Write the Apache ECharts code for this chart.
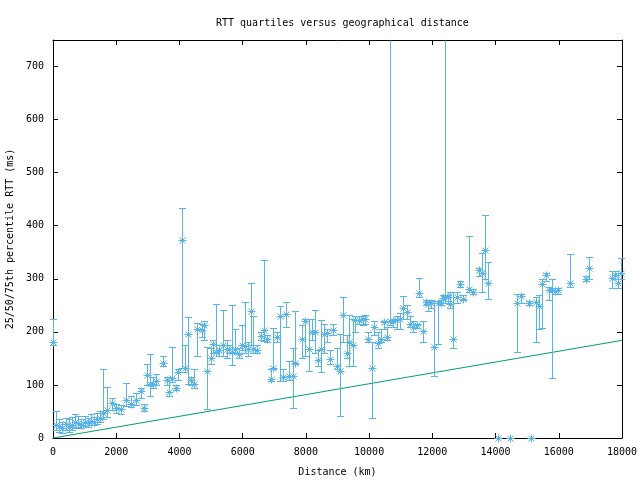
<!DOCTYPE html>
<html>
<head>
<meta charset="utf-8">
<script src="https://cdn.jsdelivr.net/npm/echarts@6/dist/echarts.min.js"></script>
<style>
html,body{margin:0;padding:0;background:#fff;}
#chart{width:640px;height:480px;}
</style>
</head>
<body>
<div id="chart"></div>
<script>
// Distance (km)
const distance = [0,100,200,300,400,500,600,700,800,900,1000,1100,1200,1300,1400,1500,
1592,1698,1856,2004,2162,2309,2457,2625,2793,2878,2973,3068,3152,3258,3489,3595,3680,3774,3880,3964,
4091,4175,4281,4365,4470,4565,4702,4786,4881,4987,5071,5156,5250,5387,5493,5566,5672,5757,5883,5988,
6073,6158,6263,6337,6442,6578,6673,6779,6885,6969,7075,7180,7264,7370,7475,7580,7664,7875,7981,8087,
8192,8277,8382,8487,8582,8677,8772,8846,8973,9078,9183,9289,9373,9479,9563,9669,9795,9879,9974,10080,
10163,10269,10374,10469,10564,10669,10764,10870,10975,11080,11186,11291,11397,11502,11586,11692,11787,11871,11956,12061,
12167,12262,12345,12399,12483,12567,12662,12768,12873,12978,13158,13274,13474,13579,13664,13769,14070,14450,14687,14792,
15066,15120,15278,15383,15478,15584,15700,15773,15879,15984,16363,16869,16964,17672,17777,17882,17957];
// Median RTT (ms)
const median = [181,25,22,18,27,20,24,30,28,25,30,28,32,30,35,38,
47,53,66,56,54,71,65,72,88,57,118,102,102,107,141,110,86,113,95,125,
374,132,196,110,102,205,203,212,127,151,177,163,165,175,168,167,163,168,159,176,
173,167,240,168,166,193,203,187,112,132,191,229,115,233,116,116,142,187,220,168,
199,199,147,168,196,197,149,204,135,127,231,160,180,176,223,223,224,224,187,132,
209,179,187,218,190,221,220,223,224,245,237,215,209,212,273,201,257,252,254,171,
254,255,264,268,266,253,187,265,291,262,281,275,317,311,355,293,0,0,254,267,
254,0,257,249,291,307,278,279,277,278,293,300,320,301,308,292,311];
// 25th percentile RTT (ms)
const q25 = [176,15,12,10,16,12,15,18,20,18,22,20,24,25,26,30,
35,40,53,48,45,60,58,62,75,50,100,80,95,100,135,100,80,105,90,110,
132,125,102,100,95,154,190,185,55,140,160,160,155,155,150,160,138,160,150,165,
160,155,175,160,160,185,182,180,108,130,180,107,108,210,110,57,140,150,155,127,
185,160,135,125,160,180,140,195,130,42,180,150,136,135,200,215,212,215,180,38,
195,170,180,205,185,213,210,205,205,225,225,210,200,208,265,180,250,240,245,116,
177,250,255,255,258,245,170,255,285,260,275,272,305,275,300,262,0,0,162,255,
250,0,181,205,207,295,260,113,272,272,285,295,300,283,300,283,300];
// 75th percentile RTT (ms)
const q75 = [224,50,35,30,38,36,40,45,42,35,42,38,45,40,48,50,
130,97,75,65,62,104,80,85,95,65,140,159,115,120,155,115,110,171,100,130,
434,175,228,115,130,217,215,220,171,170,185,252,175,241,185,175,250,205,170,212,
256,180,292,230,175,200,336,195,130,207,200,249,130,257,145,170,239,212,225,224,
224,241,165,222,215,205,165,215,170,196,266,195,232,225,230,230,230,232,200,180,
220,200,205,220,210,1000,225,230,235,268,250,230,220,215,301,220,260,258,260,258,
258,260,270,1000,270,275,276,276,295,270,380,280,320,349,421,331,0,0,272,272,
258,0,265,270,300,310,285,300,282,282,347,305,341,314,315,310,339];
// Reference line (speed-of-light bound)
const lineDist = [0, 18000];
const lineRtt = [0, 184];

const BLUE = '#56b4e9', GREEN = '#009e73';
const FONT = 'DejaVu Sans Mono';

const errData = distance.map((d, i) => [d, median[i], q25[i], q75[i]]);
const lineData = lineDist.map((d, i) => [d, lineRtt[i]]);

const chart = echarts.init(document.getElementById('chart'), null, {renderer: 'canvas'});

function px(v){ return Math.round(v) + 0.5; }
function seg(x1, y1, x2, y2) {
  return {type: 'line', shape: {x1: x1, y1: y1, x2: x2, y2: y2},
          style: {stroke: BLUE, lineWidth: 1, fill: null}};
}
const plain = v => String(v);

const option = {
  animation: false,
  backgroundColor: '#fff',
  title: {
    text: 'RTT quartiles versus geographical distance',
    left: 211, top: 13,
    textStyle: {fontFamily: FONT, fontSize: 10, fontWeight: 'normal', color: '#000'}
  },
  grid: {left: 53, right: 18, top: 40, bottom: 42, containLabel: false, outerBoundsMode: 'none'},
  xAxis: [{
    type: 'value', min: 0, max: 18000, interval: 2000, position: 'bottom',
    name: 'Distance (km)', nameLocation: 'middle', nameGap: 29,
    nameTextStyle: {fontFamily: FONT, fontSize: 10, color: '#000'},
    axisLine: {show: true, onZero: false, lineStyle: {color: '#000', width: 1}},
    axisTick: {show: true, inside: true, length: 5, lineStyle: {color: '#000'}},
    axisLabel: {fontFamily: FONT, fontSize: 10, color: '#000', margin: 9, formatter: plain,
                hideOverlap: false},
    splitLine: {show: false}
  }, {
    type: 'value', min: 0, max: 18000, interval: 2000, position: 'top',
    axisLine: {show: true, onZero: false, lineStyle: {color: '#000', width: 1}},
    axisTick: {show: true, inside: true, length: 5, lineStyle: {color: '#000'}},
    axisLabel: {show: false}, splitLine: {show: false}
  }],
  yAxis: [{
    type: 'value', min: 0, max: 750, interval: 100, position: 'left',
    name: '25/50/75th percentile RTT (ms)', nameLocation: 'middle', nameGap: 37,
    nameRotate: 90,
    nameTextStyle: {fontFamily: FONT, fontSize: 10, color: '#000'},
    axisLine: {show: true, onZero: false, lineStyle: {color: '#000', width: 1}},
    axisTick: {show: true, inside: true, length: 5, lineStyle: {color: '#000'}},
    axisLabel: {fontFamily: FONT, fontSize: 10, color: '#000', margin: 9, showMaxLabel: false, formatter: plain},
    splitLine: {show: false}
  }, {
    type: 'value', min: 0, max: 750, interval: 100, position: 'right',
    axisLine: {show: true, onZero: false, lineStyle: {color: '#000', width: 1}},
    axisTick: {show: true, inside: true, length: 5, lineStyle: {color: '#000'}},
    axisLabel: {show: false}, splitLine: {show: false}
  }],
  series: [{
    type: 'line', data: lineData, xAxisIndex: 0, yAxisIndex: 0,
    symbol: 'none', lineStyle: {color: GREEN, width: 1}, z: 2, silent: true
  }, {
    type: 'custom', data: errData, xAxisIndex: 0, yAxisIndex: 0,
    encode: {x: 0, y: [1, 2, 3]}, clip: false, z: 3, silent: true,
    renderItem: function (params, api) {
      const x = api.value(0), m = api.value(1), lo = api.value(2), hi = api.value(3);
      const pm = api.coord([x, m]);
      const pl = api.coord([x, lo]);
      const ph = api.coord([x, hi]);
      const top = params.coordSys.y;
      const cx = px(pm[0]), cy = px(pm[1]);
      const ch = [];
      if (hi > lo) {
        const yHi = Math.max(ph[1], top);
        ch.push(seg(cx, px(pl[1]), cx, px(yHi)));
        ch.push(seg(cx - 3.5, px(pl[1]), cx + 3.5, px(pl[1])));
        if (ph[1] >= top) ch.push(seg(cx - 3.5, px(ph[1]), cx + 3.5, px(ph[1])));
      }
      const r = 4, d = 3;
      ch.push(seg(cx - r, cy, cx + r, cy));
      ch.push(seg(cx, cy - r, cx, cy + r));
      ch.push(seg(cx - d, cy - d, cx + d, cy + d));
      ch.push(seg(cx - d, cy + d, cx + d, cy - d));
      return {type: 'group', children: ch};
    }
  }]
};
chart.setOption(option);
</script>
</body>
</html>
